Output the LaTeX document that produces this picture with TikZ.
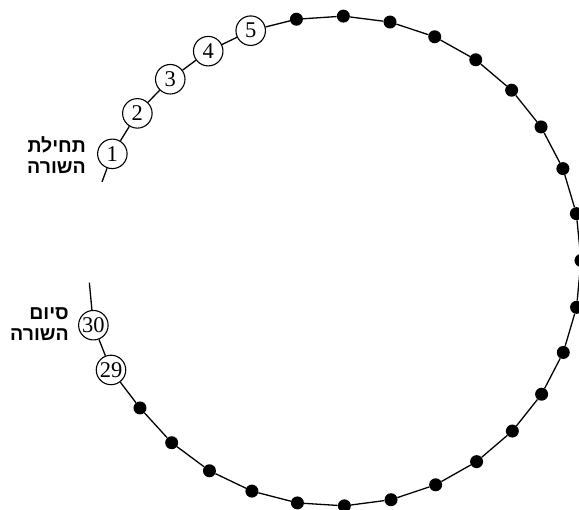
\documentclass[tikz,border=0pt]{standalone}
\usepackage{fontspec}
\setmainfont{Liberation Serif}
\newfontfamily\hebfont[Script=Hebrew]{Liberation Sans Bold}
\TeXXeTstate=1
\tikzset{
 num/.style={circle,draw,fill=white,line width=1.1pt,minimum size=29.5pt,inner sep=0pt,font=\fontsize{22.5}{22.5}\selectfont},
 blackdot/.style={circle,fill=black,minimum size=13pt,inner sep=0pt},
 lbl/.style={font=\hebfont\fontsize{19.5}{21}\selectfont,align=right,inner sep=0pt},
 ring/.style={line width=1.3pt}
}
\begin{document}
\begin{tikzpicture}
\useasboundingbox (0,0) rectangle (579pt,-510pt);
\begin{scope}[shift={(336pt,-261pt)}]
\coordinate (s) at (161.3:247pt);
\coordinate (e) at (185:247.6pt);
\foreach \k/\r in {1/248,2/247.5,3/246,4/245.7,5/245.6,29/250,30/251}
  \node[num] (n\k) at ({154.4-(\k-1)*11.02}:\r pt) {\k};
\foreach \k in {6,...,28}
  \node[blackdot] (n\k) at ({154.4-(\k-1)*11.02}:245pt) {};
\end{scope}
\draw[ring] (s) -- (n1);
\draw[ring] (n30) -- (e);
\foreach \k [evaluate=\k as \j using {int(\k+1)}] in {1,...,29}
  \draw[ring] (n\k) -- (n\j);
\node[lbl,anchor=east] (start) at (86pt,-155pt) {\beginR תחילת\endR\\\beginR השורה\endR};
\node[lbl,anchor=east] (finish) at (69pt,-324pt) {\beginR סיום\endR\\\beginR השורה\endR};
\end{tikzpicture}
\end{document}
